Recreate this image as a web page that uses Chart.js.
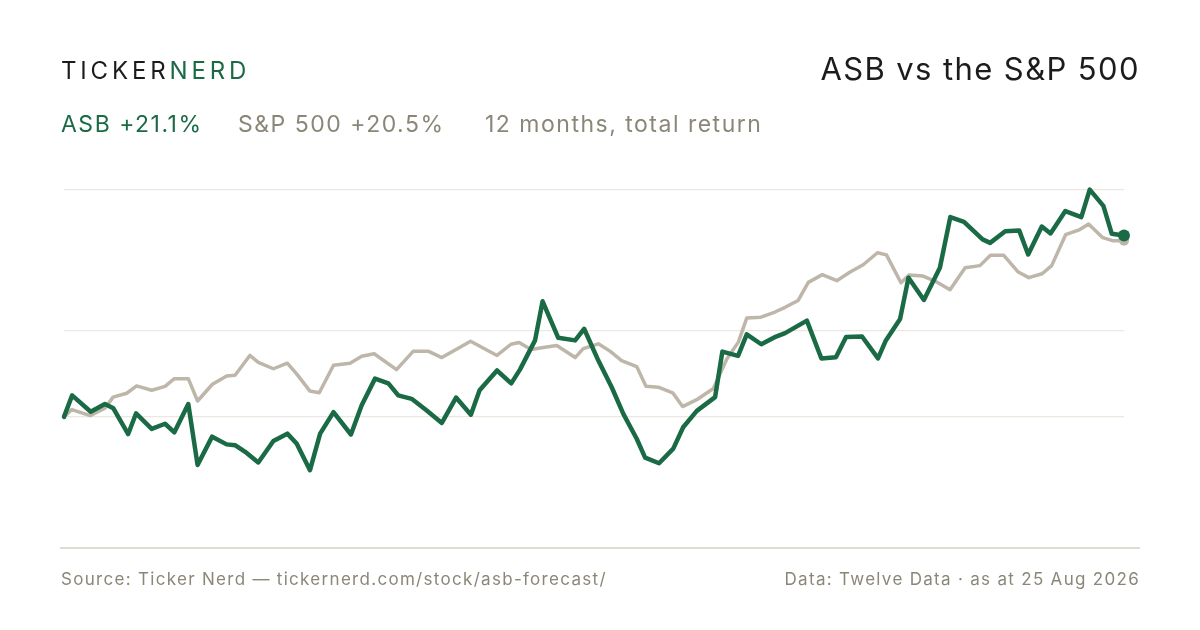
<!DOCTYPE html>
<html>
<head>
<meta charset="utf-8">
<script src="https://cdn.jsdelivr.net/npm/chart.js@4.4.1/dist/chart.umd.min.js"></script>
<style>
    html, body { margin: 0; padding: 0; background: #ffffff; }
    body { width: 1200px; height: 630px; position: relative; overflow: hidden; font-family: Inter, "Noto Sans", sans-serif; }
    #chart { position: absolute; left: 0; top: 0; }
    .txt { position: absolute; white-space: nowrap; line-height: 1; }
    .logo { left: 61px; top: 59px; font-size: 24px; letter-spacing: 0.16em; color: #1c1c1c; }
    .logo span { color: #1a6b45; }
    .title { right: 60px; top: 53px; font-size: 31px; letter-spacing: 1.4px; color: #1c1c1c; }
    .sub { top: 113px; font-size: 23px; letter-spacing: 1.5px; color: #8b8778; }
    .green { color: #1a6b45; }
    .rule { position: absolute; left: 60px; top: 547px; width: 1080px; height: 2px; background: #e0dcd2; }
    .foot { top: 571px; font-size: 17px; letter-spacing: 1.3px; color: #8b8778; }
</style>
</head>
<body>
<canvas id="chart" width="1200" height="630"></canvas>
<div class="txt logo">TICKER<span>NERD</span></div>
<div class="txt title">ASB vs the S&amp;P 500</div>
<div class="txt sub green" style="left:61px">ASB +21.1%</div>
<div class="txt sub" style="left:238px">S&amp;P 500 +20.5%</div>
<div class="txt sub" style="left:485px">12 months, total return</div>
<div class="rule"></div>
<div class="txt foot" style="left:61px">Source: Ticker Nerd — tickernerd.com/stock/asb-forecast/</div>
<div class="txt foot" style="right:60px">Data: Twelve Data · as at 25 Aug 2026</div>
<script>
// Days since start of the 12 month window, and cumulative total return (%)
const asbDays = [0, 2.8, 9.2, 14.1, 17.0, 22.1, 24.8, 30.2, 34.8, 38.0, 42.8, 46.0, 51.0, 56.0, 58.9,
    62.9, 66.9, 72.1, 76.9, 80.1, 84.7, 88.2, 92.8, 98.8, 102.5, 107.1, 111.7, 115.1, 119.7, 124.9,
    130.1, 135.0, 140.1, 143.1, 149.1, 154.0, 157.0, 162.2, 164.8, 170.2, 176.0, 179.1, 184.0, 188.6,
    192.6, 197.2, 200.1, 204.9, 209.8, 213.2, 217.9, 224.2, 226.7, 232.1, 235.1, 240.1, 245.2, 248.3,
    255.8, 260.8, 265.8, 269.3, 274.8, 280.3, 283.0, 287.9, 290.8, 296.1, 301.6, 305.2, 309.9, 316.3,
    318.9, 324.1, 328.9, 332.0, 336.7, 339.7, 344.8, 350.3, 353.2, 357.9, 360.8, 365];
const asbReturn = [0, 2.5, 0.6, 1.5, 1.0, -2.0, 0.4, -1.4, -0.8, -1.8, 1.5, -5.6, -2.3, -3.2, -3.3,
    -4.2, -5.3, -2.8, -1.95, -3.1, -6.2, -1.95, 0.55, -2.05, 1.35, 4.45, 3.9, 2.5, 2.1, 0.75,
    -0.7, 2.25, 0.25, 3.1, 5.4, 3.9, 5.5, 8.9, 13.45, 9.2, 8.9, 10.25, 6.55, 3.45,
    0.35, -2.55, -4.75, -5.4, -3.7, -1.2, 0.7, 2.3, 7.6, 7.1, 9.6, 8.45, 9.35, 9.75,
    11.2, 6.8, 6.95, 9.3, 9.35, 6.8, 8.9, 11.4, 16.2, 13.6, 17.35, 23.25, 22.7, 20.65,
    20.25, 21.6, 21.7, 18.9, 22.15, 21.35, 23.95, 23.25, 26.45, 24.55, 21.3, 21.1];

const spxDays = [0, 2.7, 9.0, 14.1, 16.9, 21.6, 25.0, 30.2, 34.8, 38.0, 42.8, 46.0, 51.1, 56.0, 58.9,
    64.0, 66.9, 72.1, 76.9, 80.1, 84.7, 87.9, 92.8, 98.5, 102.5, 106.8, 114.5, 120.3, 125.4, 130.1,
    135.0, 140.0, 149.1, 153.9, 156.7, 160.8, 165.6, 169.7, 176.0, 178.8, 184.0, 188.0, 192.0, 197.2,
    200.4, 204.6, 209.6, 213.0, 217.9, 223.6, 228.2, 232.2, 235.1, 240.0, 244.8, 248.3, 252.8, 256.3,
    261.1, 266.1, 270.7, 275.2, 280.1, 283.2, 288.2, 291.0, 295.6, 300.5, 305.1, 310.3, 315.4, 319.0,
    323.6, 328.6, 332.2, 336.8, 340.1, 344.9, 349.8, 352.8, 357.7, 361.0, 365];
const spxReturn = [0, 0.85, 0.15, 1.0, 2.3, 2.75, 3.6, 3.1, 3.55, 4.45, 4.45, 1.85, 3.8, 4.75, 4.85,
    7.15, 6.35, 5.6, 6.25, 5.0, 3.0, 2.8, 6.0, 6.25, 7.05, 7.35, 5.5, 7.65, 7.65, 6.9,
    7.85, 8.8, 7.15, 8.45, 8.65, 7.85, 8.1, 8.3, 6.9, 7.95, 8.5, 7.65, 6.55, 5.85,
    3.55, 3.45, 2.8, 1.2, 2.0, 3.3, 6.7, 8.7, 11.5, 11.6, 12.2, 12.75, 13.55, 15.65,
    16.55, 15.85, 16.85, 17.7, 19.1, 18.85, 15.6, 16.5, 16.4, 15.7, 14.8, 17.35, 17.6, 18.8,
    18.8, 16.85, 16.2, 16.65, 17.6, 21.2, 21.8, 22.45, 20.85, 20.5, 20.5];

// gridlines drawn at these return levels
const gridValues = [0, 10, 26.4];
const yMin = -12;
const yMax = 26.4;

const GREEN = '#1a6b45';
const GREY = '#bdb6a9';

function toPoints(days, values) {
    return days.map((d, i) => ({ x: d, y: values[i] }));
}

function endDot(radius, count) {
    return ctx => (ctx.dataIndex === count - 1 ? radius : 0);
}

const ctx = document.getElementById('chart').getContext('2d');

new Chart(ctx, {
    type: 'line',
    data: {
        datasets: [
            {
                label: 'ASB',
                data: toPoints(asbDays, asbReturn),
                borderColor: GREEN,
                backgroundColor: GREEN,
                borderWidth: 4.5,
                borderJoinStyle: 'round',
                borderCapStyle: 'round',
                tension: 0,
                pointRadius: endDot(6, asbDays.length),
                pointBorderWidth: 0,
                clip: false,
                order: 0
            },
            {
                label: 'S&P 500',
                data: toPoints(spxDays, spxReturn),
                borderColor: GREY,
                backgroundColor: GREY,
                borderWidth: 3.5,
                borderJoinStyle: 'round',
                borderCapStyle: 'round',
                tension: 0,
                pointRadius: endDot(5, spxDays.length),
                pointBorderWidth: 0,
                clip: false,
                order: 1
            }
        ]
    },
    options: {
        responsive: false,
        animation: false,
        events: [],
        layout: {
            padding: { left: 64, right: 76, top: 190, bottom: 110 }
        },
        plugins: {
            legend: { display: false },
            tooltip: { enabled: false }
        },
        scales: {
            x: {
                type: 'linear',
                min: 0,
                max: 365,
                display: false
            },
            y: {
                type: 'linear',
                min: yMin,
                max: yMax,
                afterBuildTicks: scale => {
                    scale.ticks = gridValues.map(v => ({ value: v }));
                },
                afterFit: scale => {
                    scale.width = 0;
                },
                ticks: { display: false },
                border: { display: false },
                grid: {
                    color: '#ebe8e1',
                    lineWidth: 1.2,
                    drawTicks: false
                }
            }
        }
    }
});
</script>
</body>
</html>
